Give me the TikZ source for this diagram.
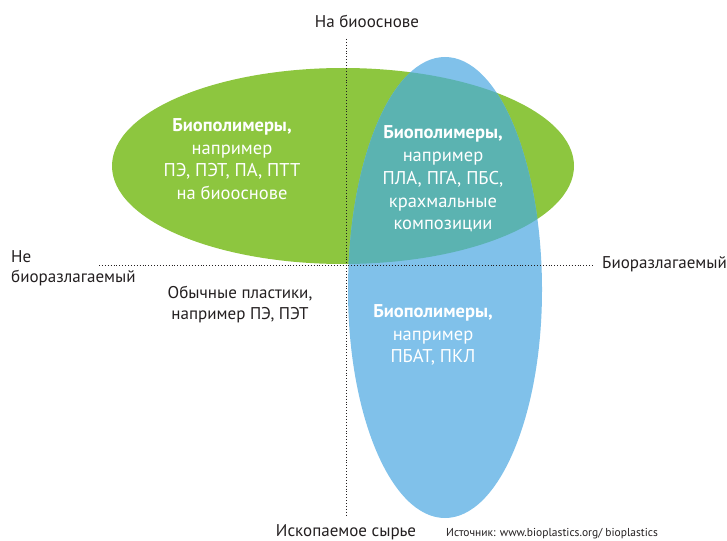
\documentclass[tikz,border=0pt]{standalone}
\usepackage{fontspec}
\setmainfont{PT Sans}
\definecolor{biogreen}{HTML}{8DC63F}
\definecolor{bioblue}{HTML}{80C1EA}
\definecolor{bioteal}{HTML}{5BB3B1}
\definecolor{txtgray}{HTML}{231F20}
% egg shaped blob for the biodegradable polymers
\newcommand{\bioegg}{(348,290) arc[start angle=180,end angle=0,x radius=97,y radius=228]
  arc[start angle=0,end angle=-180,x radius=97,y radius=233] -- cycle}
\tikzset{
  axisline/.style={line width=0.9pt,dotted,txtgray},
  lbl/.style={txtgray,font=\fontsize{17}{20}\selectfont,inner sep=0pt},
  inlbl/.style={white,align=center,inner sep=0pt,font=\fontsize{18.5}{22.7}\selectfont},
}
\begin{document}
\begin{tikzpicture}[x=1pt,y=-1pt]
\useasboundingbox (0,0) rectangle (727,540);
%\draw[step=50,gray,very thin] (0,0) grid (727,540);
\fill[biogreen] (343,166) ellipse[x radius=231,y radius=98];
\fill[bioblue] \bioegg;
\begin{scope}
\clip (343,166) ellipse[x radius=231,y radius=98];
\fill[bioteal] \bioegg;
\end{scope}
% axes
\coordinate (top) at (346,39);
\coordinate (bot) at (346,515);
\coordinate (lft) at (99,265);
\coordinate (rgt) at (594,265);
\draw[axisline] (top) -- (bot);
\draw[axisline] (lft) -- (rgt);
\node[lbl] (biobased) at (367,21) {На биооснове};
\node[lbl] (fossil) at (346,532) {Ископаемое сырье};
\node[lbl,anchor=west] (biodeg) at (602,264) {Биоразлагаемый};
\node[lbl,anchor=west] (nonbiodeg) at (11,257) {Не};
\node[lbl,anchor=west] (nonbiodeg2) at (11,278) {биоразлагаемый};
\node[lbl,align=center,font=\fontsize{17}{21}\selectfont] (conv) at (240,305) {Обычные пластики,\\например ПЭ, ПЭТ};
\node[txtgray,anchor=west,inner sep=0pt,font=\fontsize{11.5}{13}\selectfont] (src) at (446,534) {Источник: www.bioplastics.org/ bioplastics};
% texts in the blobs
\node[inlbl] (green) at (232,159) {\textbf{Биополимеры,}\\например\\ПЭ, ПЭТ, ПА, ПТТ\\на биооснове};
\node[inlbl] (teal) at (443,179) {\textbf{Биополимеры,}\\например\\ПЛА, ПГА, ПБС,\\крахмальные\\композиции};
\node[inlbl] (blue) at (433,335) {\textbf{Биополимеры,}\\например\\ПБАТ, ПКЛ};
\end{tikzpicture}
\end{document}
